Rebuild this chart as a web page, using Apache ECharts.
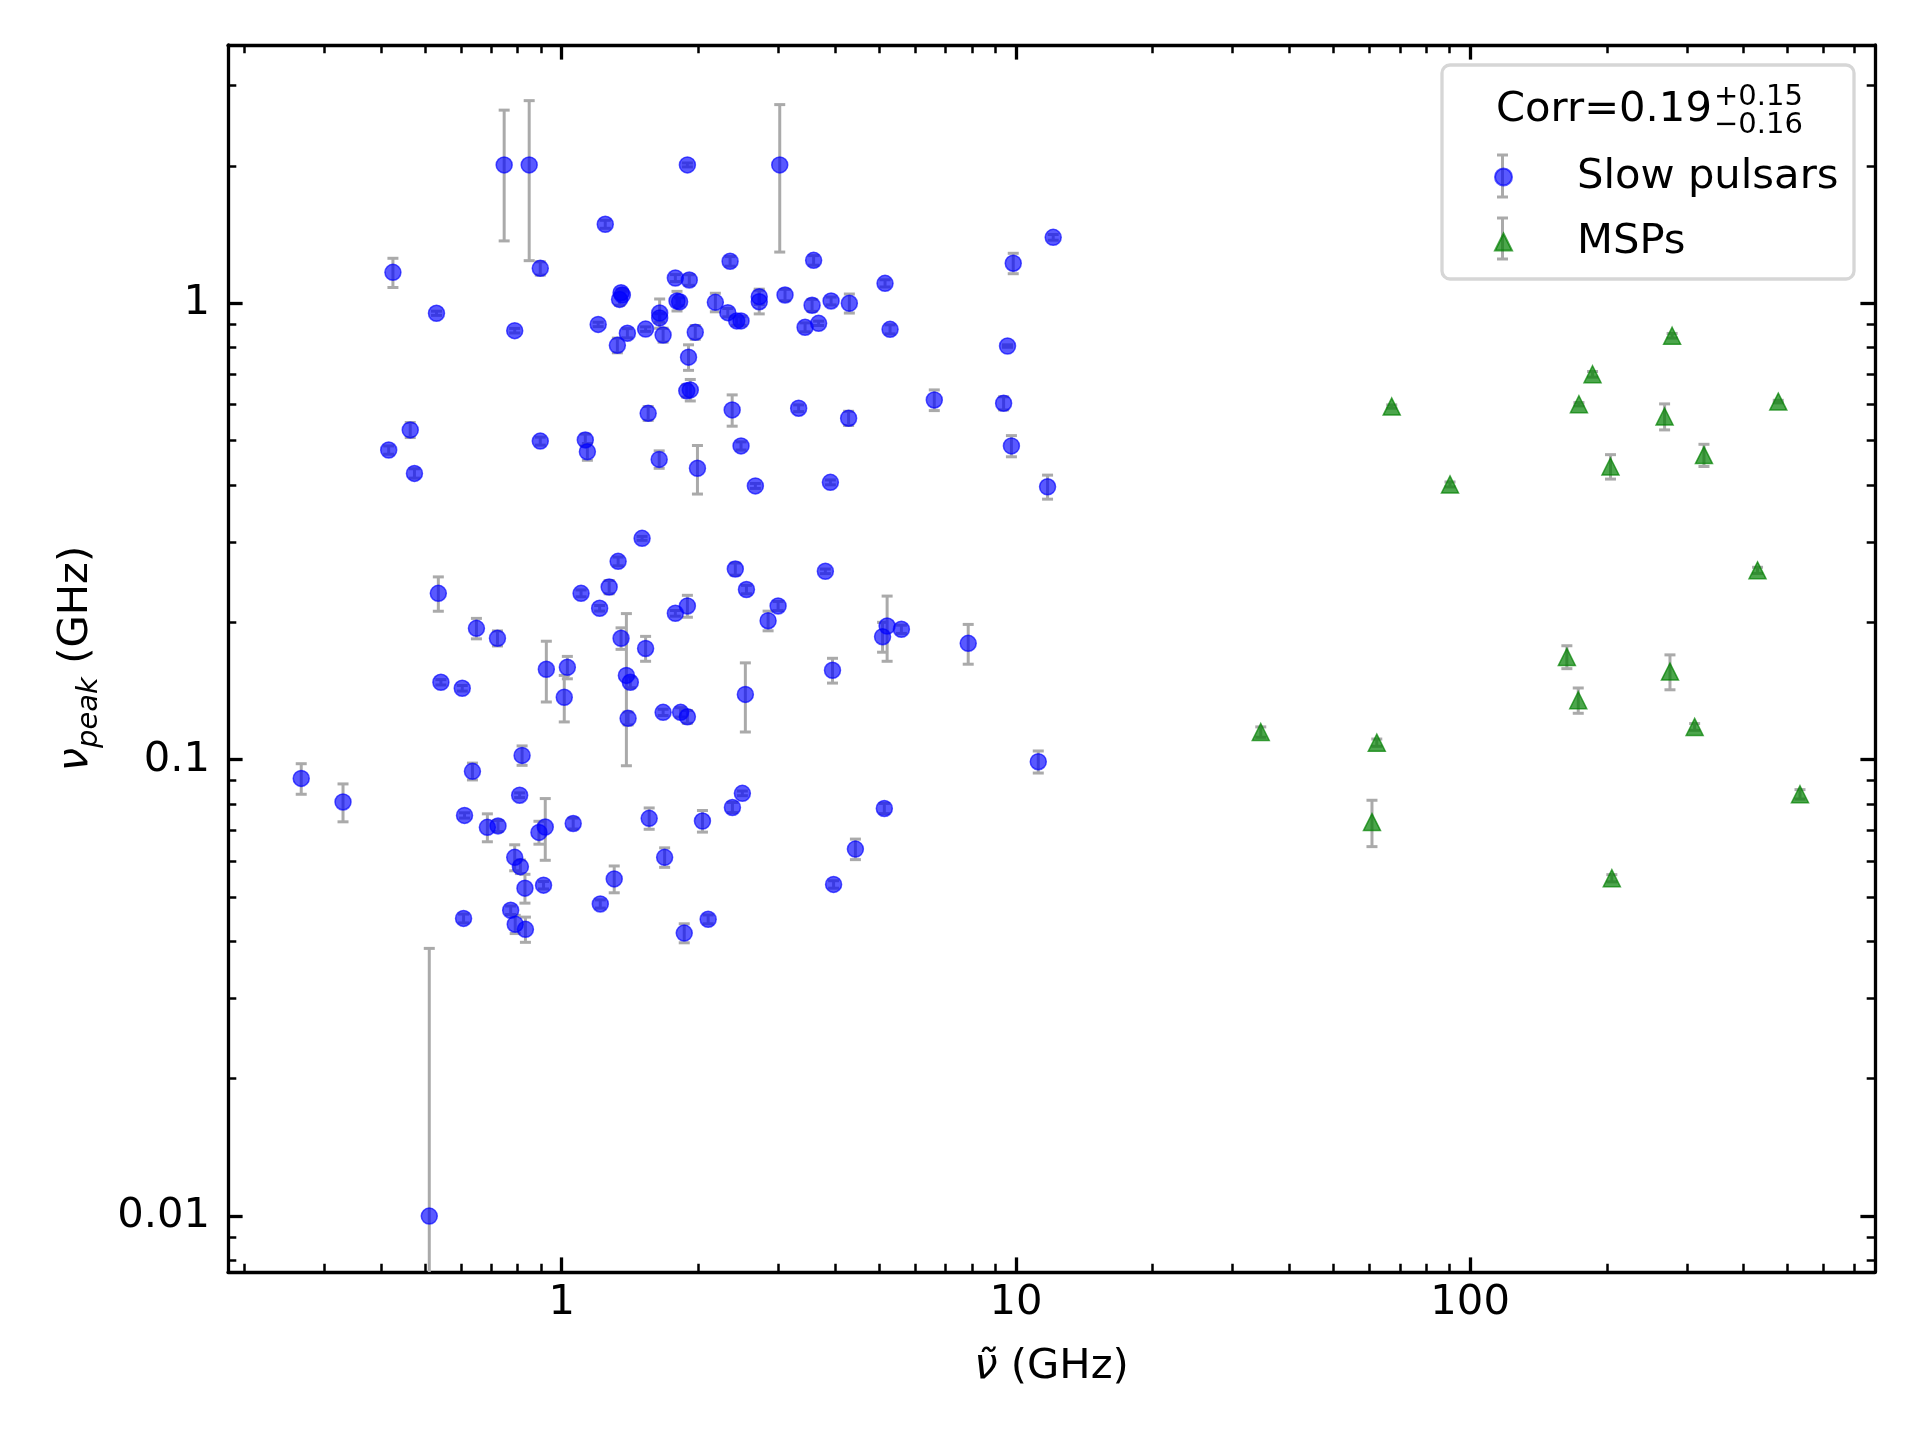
<!DOCTYPE html>
<html>
<head>
<meta charset="utf-8">
<script src="https://cdn.jsdelivr.net/npm/echarts@6/dist/echarts.min.js"></script>
<style>
  html, body { margin: 0; padding: 0; background: #fff; }
  #chart { width: 1920px; height: 1440px; }
</style>
</head>
<body>
<div id="chart"></div>
<script>
// slow pulsars: nu-tilde (GHz), nu_peak (GHz) and its error
const slowX = [0.747, 0.848, 1.891, 3.02, 1.247, 0.425, 0.897, 2.348, 1.779, 1.909,
  1.341, 1.351, 1.360, 0.530, 0.788, 1.203, 1.395, 1.326, 1.530, 1.672,
  1.643, 1.643, 1.794, 1.818, 1.968, 1.902, 1.885, 1.919, 1.550, 2.373,
  2.179, 2.321, 2.428, 2.482, 2.722, 2.722, 3.102, 0.464, 0.416, 0.897,
  1.127, 1.139, 2.482, 1.639, 12.08, 3.586, 9.865, 5.150, 3.558, 3.918,
  4.298, 3.434, 3.678, 5.283, 9.583, 3.324, 4.282, 6.611, 9.395, 9.774,
  1.990, 0.474, 2.669, 1.503, 1.331, 2.411, 1.272, 1.103, 1.212, 2.551,
  2.995, 1.779, 1.891, 2.847, 0.535, 0.649, 0.722, 1.351, 1.530, 0.925,
  1.029, 1.013, 1.388, 1.416, 1.400, 0.542, 0.604, 1.672, 1.827, 1.891,
  2.537, 0.267, 0.330, 0.636, 0.818, 0.808, 0.611, 0.686, 0.724, 0.891,
  0.920, 1.060, 1.558, 2.041, 2.376, 2.499, 0.788, 0.811, 1.685, 11.74,
  3.904, 3.806, 5.205, 5.086, 5.596, 7.852, 3.946, 11.20, 5.132, 4.432,
  0.830, 0.912, 0.772, 0.790, 0.832, 0.608, 1.305, 1.216, 1.861, 2.101,
  0.511, 3.968];
const slowY = [2.01, 2.01, 2.01, 2.01, 1.49, 1.169, 1.193, 1.236, 1.136, 1.125,
  1.020, 1.055, 1.043, 0.951, 0.871, 0.899, 0.860, 0.809, 0.878, 0.852,
  0.952, 0.929, 1.012, 1.008, 0.864, 0.762, 0.643, 0.646, 0.574, 0.584,
  1.005, 0.954, 0.915, 0.915, 1.034, 1.008, 1.043, 0.528, 0.477, 0.499,
  0.502, 0.473, 0.487, 0.455, 1.395, 1.242, 1.224, 1.106, 0.990, 1.012,
  1.000, 0.886, 0.904, 0.877, 0.806, 0.589, 0.560, 0.614, 0.604, 0.487,
  0.435, 0.424, 0.398, 0.3055, 0.272, 0.2617, 0.239, 0.2315, 0.2147, 0.236,
  0.2172, 0.2093, 0.2172, 0.2016, 0.2315, 0.194, 0.1845, 0.1845, 0.1753, 0.1578,
  0.1594, 0.137, 0.153, 0.1478, 0.1232, 0.1478, 0.1434, 0.127, 0.127, 0.1242,
  0.139, 0.0910, 0.0808, 0.0943, 0.1022, 0.0836, 0.0755, 0.0711, 0.0716, 0.0693,
  0.0712, 0.0725, 0.0744, 0.0734, 0.0786, 0.0844, 0.0611, 0.0583, 0.0611, 0.3963,
  0.4052, 0.2587, 0.1963, 0.186, 0.1931, 0.1799, 0.157, 0.099, 0.0782, 0.0637,
  0.0523, 0.0531, 0.0468, 0.0436, 0.0425, 0.0449, 0.0548, 0.0483, 0.0417, 0.0447,
  0.0100, 0.0533];
const slowErr = [0.64, 0.77, 0.02, 0.715, 0.03, 0.086, 0.04, 0.03, 0.02, 0.03,
  0.03, 0.02, 0.02, 0.01, 0.01, 0.01, 0.02, 0.03, 0.01, 0.03,
  0.07, 0.02, 0.05, 0.02, 0.03, 0.049, 0.02, 0.035, 0.02, 0.046,
  0.047, 0.02, 0.02, 0.02, 0.04, 0.06, 0.03, 0.02, 0.01, 0.01,
  0.015, 0.02, 0.01, 0.02, 0.02, 0.03, 0.063, 0.02, 0.03, 0.02,
  0.048, 0.02, 0.01, 0.02, 0.005, 0.01, 0.02, 0.032, 0.02, 0.026,
  0.053, 0.01, 0.005, 0.003, 0.006, 0.008, 0.008, 0.004, 0.003, 0.005,
  0.005, 0.003, 0.012, 0.01, 0.020, 0.010, 0.007, 0.01, 0.011, 0.024,
  0.009, 0.016, 0.056, 0.004, 0.004, 0.002, 0.002, 0.002, 0.003, 0.004,
  0.024, 0.007, 0.0077, 0.004, 0.005, 0.001, 0.001, 0.005, 0.002, 0.004,
  0.011, 0.002, 0.004, 0.004, 0.002, 0.001, 0.004, 0.002, 0.003, 0.024,
  0.005, 0.003, 0.032, 0.014, 0.004, 0.018, 0.0098, 0.0055, 0.002, 0.0033,
  0.0038, 0.001, 0.001, 0.002, 0.0027, 0.001, 0.0037, 0.001, 0.002, 0.001,
  0.0286, 0.001];

// millisecond pulsars
const mspX = [278.4, 186.0, 67.2, 173.6, 268.0, 476.9, 327.2, 203.7, 90.3, 429.3,
  163.3, 275.4, 173.0, 312.1, 62.3, 34.6, 532.4, 60.8, 205.1];
const mspY = [0.849, 0.699, 0.594, 0.601, 0.565, 0.609, 0.465, 0.439, 0.401, 0.260,
  0.168, 0.156, 0.135, 0.118, 0.109, 0.115, 0.084, 0.073, 0.055];
const mspErr = [0.01, 0.01, 0.005, 0.005, 0.037, 0.004, 0.026, 0.027, 0.005, 0.004,
  0.0097, 0.0137, 0.0086, 0.002, 0.002, 0.003, 0.002, 0.0085, 0.001];

// axis ranges and ticks
const xMin = 0.1842, xMax = 778.7;
const yMin = 0.007543, yMax = 3.681;
const xMajor = [1, 10, 100];
const xMinor = [0.2, 0.3, 0.4, 0.5, 0.6, 0.7, 0.8, 0.9, 2, 3, 4, 5, 6, 7, 8, 9,
  20, 30, 40, 50, 60, 70, 80, 90, 200, 300, 400, 500, 600, 700];
const yMajor = [0.01, 0.1, 1];
const yMinor = [0.008, 0.009, 0.02, 0.03, 0.04, 0.05, 0.06, 0.07, 0.08, 0.09,
  0.2, 0.3, 0.4, 0.5, 0.6, 0.7, 0.8, 0.9, 2, 3];

const font = 'DejaVu Sans';
const FS = 41.7;

const chart = echarts.init(document.getElementById('chart'));

function majorTick(vals) {
  return { show: true, inside: true, length: 14.6, customValues: vals,
    lineStyle: { color: '#000', width: 3.3 } };
}
function minorTick(vals) {
  return { show: true, inside: true, length: 8.3, customValues: vals,
    lineStyle: { color: '#000', width: 2.5 } };
}
const spine = { show: true, lineStyle: { color: '#000', width: 3.3 } };
const noLine = { show: false };

function xAx(pos, major, line, extra) {
  return Object.assign({
    type: 'log', min: xMin, max: xMax, position: pos,
    axisLine: line ? spine : noLine,
    axisTick: major ? majorTick(xMajor) : minorTick(xMinor),
    axisLabel: { show: false },
    splitLine: { show: false }
  }, extra || {});
}
function yAx(pos, major, line, extra) {
  return Object.assign({
    type: 'log', min: yMin, max: yMax, position: pos,
    axisLine: line ? spine : noLine,
    axisTick: major ? majorTick(yMajor) : minorTick(yMinor),
    axisLabel: { show: false },
    splitLine: { show: false }
  }, extra || {});
}

function renderErr(params, api) {
  const x = api.value(0), y = api.value(1), e = api.value(2);
  const lo = y - e > 0 ? y - e : yMin / 100;
  const top = api.coord([x, y + e]);
  const bot = api.coord([x, lo]);
  const cap = 5.5;
  const style = { stroke: '#aaaaaa', lineWidth: 3 };
  return {
    type: 'group',
    children: [
      { type: 'line', shape: { x1: top[0], y1: top[1], x2: bot[0], y2: bot[1] }, style: style },
      { type: 'line', shape: { x1: top[0] - cap, y1: top[1], x2: top[0] + cap, y2: top[1] }, style: style },
      { type: 'line', shape: { x1: bot[0] - cap, y1: bot[1], x2: bot[0] + cap, y2: bot[1] }, style: style }
    ]
  };
}

const slowPts = slowX.map((x, i) => [x, slowY[i]]);
const slowErrPts = slowX.map((x, i) => [x, slowY[i], slowErr[i]]);
const mspPts = mspX.map((x, i) => [x, mspY[i]]);
const mspErrPts = mspX.map((x, i) => [x, mspY[i], mspErr[i]]);

const option = {
  animation: false,
  backgroundColor: '#fff',
  grid: { left: 228, right: 45, top: 45, bottom: 168 },
  xAxis: [
    xAx('bottom', true, true, {
      axisLabel: { show: true, customValues: xMajor, fontSize: FS, fontFamily: font, color: '#000', margin: 10 },
      name: '{i|ν\u0303}{r| (GHz)}',
      nameLocation: 'middle',
      nameGap: 74,
      nameTextStyle: {
        fontFamily: font, fontSize: FS, color: '#000',
        rich: {
          i: { fontFamily: font, fontStyle: 'italic', fontSize: FS, color: '#000' },
          r: { fontFamily: font, fontSize: FS, color: '#000' }
        }
      }
    }),
    xAx('bottom', false, false),
    xAx('top', true, true),
    xAx('top', false, false)
  ],
  yAxis: [
    yAx('left', true, true, {
      axisLabel: { show: true, customValues: yMajor, fontSize: FS, fontFamily: font, color: '#000', margin: 18 },
      name: '{i|ν}{s|peak}{r| (GHz)}',
      nameLocation: 'middle',
      nameRotate: 90,
      nameGap: 124,
      nameTextStyle: {
        fontFamily: font, fontSize: FS, color: '#000',
        rich: {
          i: { fontFamily: font, fontStyle: 'italic', fontSize: FS, lineHeight: 56, color: '#000' },
          s: { fontFamily: font, fontStyle: 'italic', fontSize: 29, lineHeight: 29, verticalAlign: 'bottom', color: '#000' },
          r: { fontFamily: font, fontSize: FS, lineHeight: 56, color: '#000' }
        }
      }
    }),
    yAx('left', false, false),
    yAx('right', true, true),
    yAx('right', false, false)
  ],
  legend: {
    data: ['Slow pulsars', 'MSPs'],
    orient: 'vertical',
    left: 1494,
    top: 155,
    padding: 0,
    itemWidth: 17,
    itemHeight: 17,
    itemGap: 21,
    z: 10,
    selectedMode: false,
    textStyle: { fontFamily: font, fontSize: FS, color: '#000', lineHeight: 44, padding: [0, 0, 0, 60] }
  },
  graphic: [
    { type: 'rect', z: 1, shape: { x: 1442, y: 65, width: 412, height: 214, r: 8 },
      style: { fill: 'rgba(255,255,255,0.8)', stroke: '#d6d6d6', lineWidth: 3.3 } },
    { type: 'text', z: 2, style: { text: 'Corr=0.19', x: 1496, y: 110.5, fontFamily: font, fontSize: FS, fill: '#000', textAlign: 'left', textVerticalAlign: 'middle' } },
    { type: 'text', z: 2, style: { text: '+0.15', x: 1714, y: 97, fontFamily: font, fontSize: 29, fill: '#000', textAlign: 'left', textVerticalAlign: 'middle' } },
    { type: 'text', z: 2, style: { text: '\u22120.16', x: 1714, y: 125, fontFamily: font, fontSize: 29, fill: '#000', textAlign: 'left', textVerticalAlign: 'middle' } },
    { type: 'line', z: 2, shape: { x1: 1502.5, y1: 155, x2: 1502.5, y2: 197 }, style: { stroke: '#aaaaaa', lineWidth: 3 } },
    { type: 'line', z: 2, shape: { x1: 1497, y1: 155, x2: 1508, y2: 155 }, style: { stroke: '#aaaaaa', lineWidth: 3 } },
    { type: 'line', z: 2, shape: { x1: 1497, y1: 197, x2: 1508, y2: 197 }, style: { stroke: '#aaaaaa', lineWidth: 3 } },
    { type: 'line', z: 2, shape: { x1: 1502.5, y1: 218, x2: 1502.5, y2: 259 }, style: { stroke: '#aaaaaa', lineWidth: 3 } },
    { type: 'line', z: 2, shape: { x1: 1497, y1: 218, x2: 1508, y2: 218 }, style: { stroke: '#aaaaaa', lineWidth: 3 } },
    { type: 'line', z: 2, shape: { x1: 1497, y1: 259, x2: 1508, y2: 259 }, style: { stroke: '#aaaaaa', lineWidth: 3 } }
  ],
  series: [
    {
      name: 'slow-err', type: 'custom', renderItem: renderErr, data: slowErrPts,
      xAxisIndex: 0, yAxisIndex: 0, clip: true, silent: true
    },
    {
      name: 'Slow pulsars', type: 'scatter', data: slowPts, xAxisIndex: 0, yAxisIndex: 0,
      symbol: 'circle', symbolSize: 16,
      itemStyle: { color: '#0000ff', opacity: 0.65, borderColor: '#0000ff', borderWidth: 1.5 }
    },
    {
      name: 'msp-err', type: 'custom', renderItem: renderErr, data: mspErrPts,
      xAxisIndex: 0, yAxisIndex: 0, clip: true, silent: true
    },
    {
      name: 'MSPs', type: 'scatter', data: mspPts, xAxisIndex: 0, yAxisIndex: 0,
      symbol: 'triangle', symbolSize: 17,
      itemStyle: { color: '#008000', opacity: 0.7, borderColor: '#008000', borderWidth: 1.5 }
    }
  ]
};

chart.setOption(option);
</script>
</body>
</html>
